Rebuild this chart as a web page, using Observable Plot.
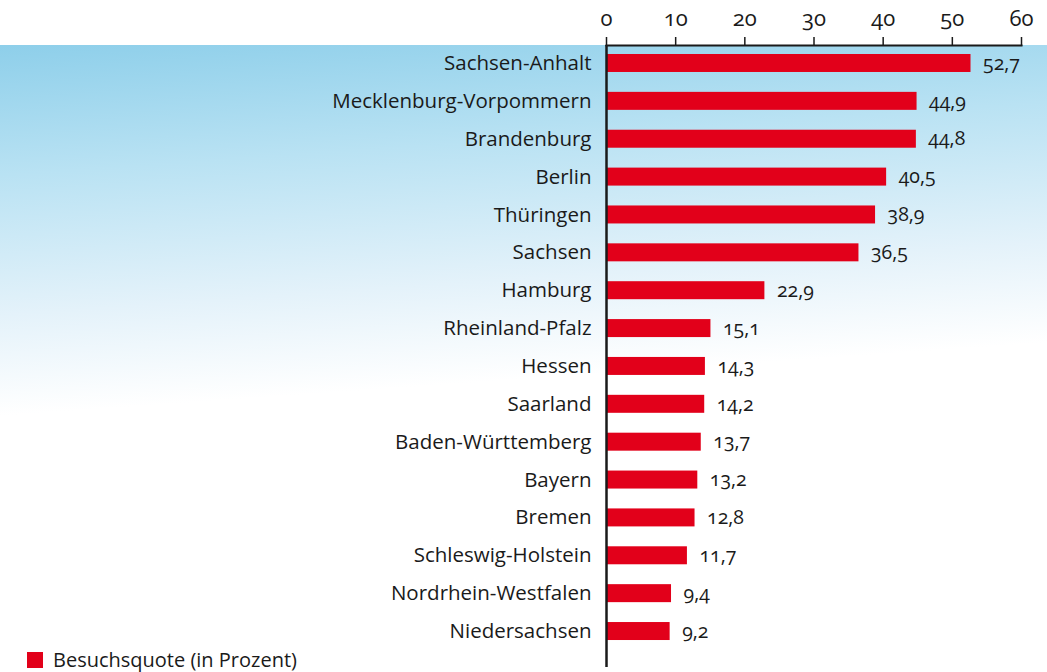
<!DOCTYPE html>
<html>
<head>
<meta charset="utf-8">
<script src="https://cdn.jsdelivr.net/npm/d3@7"></script>
<script src="https://cdn.jsdelivr.net/npm/@observablehq/plot@0.6"></script>
<style>
  html, body { margin: 0; padding: 0; background: #fff; }
  #wrap { position: relative; width: 1047px; height: 672px; overflow: hidden;
          font-family: "Open Sans", sans-serif; color: #1a1a1a; }
  #bg { position: absolute; left: 0; top: 45px; width: 1047px; height: 627px;
        background: linear-gradient(176deg, #8ecfea 0px, #b9e2f3 130px, #e4f2fa 270px, #ffffff 370px, #ffffff 627px); }
  #chart { position: absolute; left: 0; top: 0; }
  #chart svg { background: transparent !important; font-variant-numeric: oldstyle-nums; }
  #chart svg text { font-variant-numeric: oldstyle-nums !important; }
  #legend { position: absolute; left: 27px; top: 651px; display: flex; align-items: center;
            font-size: 20px; line-height: 18px; }
  #legend .sw { width: 16px; height: 16px; background: #e2001a; margin-right: 10px; }
</style>
</head>
<body>
<div id="wrap">
  <div id="bg"></div>
  <div id="chart"></div>
  <div id="legend"><span class="sw"></span><span>Besuchsquote (in Prozent)</span></div>
</div>
<script>
const states = ["Sachsen-Anhalt","Mecklenburg-Vorpommern","Brandenburg","Berlin","Thüringen","Sachsen","Hamburg","Rheinland-Pfalz","Hessen","Saarland","Baden-Württemberg","Bayern","Bremen","Schleswig-Holstein","Nordrhein-Westfalen","Niedersachsen"];
const values = [52.7,44.9,44.8,40.5,38.9,36.5,22.9,15.1,14.3,14.2,13.7,13.2,12.8,11.7,9.4,9.2];
const xTicks = [0,10,20,30,40,50,60];

const data = states.map((s, i) => ({state: s, value: values[i]}));
const fmt = v => v.toLocaleString("de-DE", {minimumFractionDigits: 1, maximumFractionDigits: 1});

const chart = Plot.plot({
  width: 1047,
  height: 672,
  marginLeft: 606,
  marginRight: 26,
  marginTop: 45,
  marginBottom: 5,
  style: {fontFamily: "Open Sans, sans-serif", fontSize: "20px", color: "#1a1a1a", background: "transparent"},
  x: {domain: [0, 60], axis: null},
  y: {domain: states, paddingInner: 0.525, paddingOuter: 0.475, align: 0.25, round: false, axis: null},
  marks: [
    Plot.barX(data, {x: "value", y: "state", fill: "#e2001a"}),
    Plot.text(data, {x: "value", y: "state", text: d => fmt(d.value), textAnchor: "start", dx: 12, dy: 0, fontSize: 19.5, fill: "#1a1a1a", fontVariant: "oldstyle-nums"}),
    Plot.axisY({tickSize: 0, tickPadding: 15, fontSize: 20.5, label: null}),
    Plot.axisX(xTicks, {anchor: "top", tickSize: 9, tickPadding: 11, fontSize: 22, label: null, strokeWidth: 1.5, fontVariant: "oldstyle-nums"}),
    Plot.frame({anchor: "top", stroke: "#1a1a1a", strokeWidth: 2}),
    Plot.ruleX([0], {stroke: "#1a1a1a", strokeWidth: 2.5})
  ]
});
document.getElementById("chart").appendChild(chart);
</script>
</body>
</html>
